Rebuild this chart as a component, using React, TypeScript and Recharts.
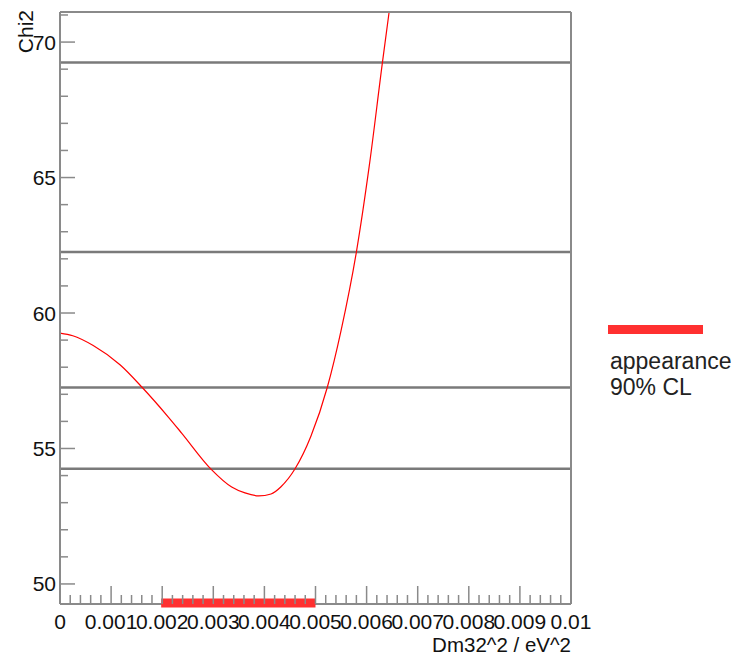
import { LineChart, Line, XAxis, YAxis, ReferenceLine, Legend, Label } from 'recharts'

// chi2 scan vs Dm32^2
const dm32 = [
  0, 0.00025, 0.00065, 0.00118, 0.00161, 0.00212, 0.00238, 0.00295, 0.00336, 0.00362,
  0.00389, 0.00413, 0.00432, 0.0046, 0.00491, 0.00523, 0.0055, 0.0058, 0.00605, 0.00631,
  0.00644,
]
const chi2 = [
  59.26, 59.16, 58.8, 58.08, 57.25, 56.16, 55.57, 54.25, 53.58, 53.36,
  53.25, 53.32, 53.58, 54.25, 55.45, 57.25, 59.35, 62.25, 65.4, 69.25,
  71.1,
]

// horizontal lines (min + 1, 4, 9, 16)
const levels = [54.25, 57.25, 62.25, 69.25]

// 90% CL interval drawn on the x axis
const clRange = [0.00198, 0.005]
const clY = 49.3
const legendLines = ['appearance', '90% CL']

const xLabels = ['0', '0.001', '0.002', '0.003', '0.004', '0.005', '0.006', '0.007', '0.008', '0.009', '0.01']
const xTicks = Array.from({ length: 51 }, (_, i) => i * 0.0002)
const yTicks = Array.from({ length: 22 }, (_, i) => 50 + i)
const xDomain = [0, 0.01]
const yDomain = [49.26, 71.11]

const FONT = '"Liberation Sans", Arial, sans-serif'
const AXIS = '#8a8a8a'

const curveData = dm32.map((x, i) => ({ x, chi2: chi2[i] }))
const clData = clRange.map((x) => ({ x, cl: clY }))

function XTick({ x, y, payload }: any) {
  const k = Math.round(payload.value * 1000)
  const major = Math.abs(payload.value * 1000 - k) < 1e-6
  return (
    <g>
      <line x1={x} x2={x} y1={y} y2={y - (major ? 18 : 9)} stroke={AXIS} strokeWidth={1.5} />
      {major && (
        <text x={x} y={y + 25} textAnchor="middle" fontSize={21} fontFamily={FONT} fill="#111">
          {xLabels[k]}
        </text>
      )}
    </g>
  )
}

function YTick({ x, y, payload }: any) {
  const major = payload.value % 5 === 0
  return (
    <g>
      <line x1={x} x2={x + (major ? 15 : 8)} y1={y} y2={y} stroke={AXIS} strokeWidth={1.5} />
      {major && (
        <text x={x - 4} y={y + 7.5} textAnchor="end" fontSize={21} fontFamily={FONT} fill="#111">
          {payload.value}
        </text>
      )}
    </g>
  )
}

function LegendBox({ payload }: any) {
  const item = (payload || []).find((p: any) => p.value === legendLines.join(' '))
  const color = item ? item.color : '#ff3030'
  return (
    <div style={{ fontFamily: FONT, fontSize: 23, lineHeight: '26px', color: '#222', textAlign: 'left' }}>
      <div style={{ width: 95, height: 9, background: color, marginBottom: 14 }} />
      {legendLines.map((t) => (
        <div key={t} style={{ paddingLeft: 2, whiteSpace: 'nowrap' }}>{t}</div>
      ))}
    </div>
  )
}

export default function App() {
  return (
    <div style={{ position: 'absolute', left: 0, top: 0, background: '#fff' }}>
      <LineChart width={739} height={656} margin={{ top: 11, right: 167, bottom: 51, left: 59 }}>
        <XAxis
          dataKey="x"
          type="number"
          domain={xDomain}
          ticks={xTicks}
          interval={0}
          height={1}
          tickSize={0}
          tickMargin={0}
          tickLine={false}
          tick={<XTick />}
          axisLine={{ stroke: AXIS, strokeWidth: 2 }}
          allowDuplicatedCategory={false}
        >
          <Label
            content={({ viewBox }: any) => (
              <text
                x={viewBox.x + viewBox.width}
                y={viewBox.y + 48}
                textAnchor="end"
                fontSize={20.5}
                fontFamily={FONT}
                fill="#111"
              >
                Dm32^2 / eV^2
              </text>
            )}
          />
        </XAxis>
        <XAxis xAxisId="top" orientation="top" height={1} tick={false} tickLine={false} axisLine={{ stroke: AXIS, strokeWidth: 2 }} />
        <YAxis
          type="number"
          domain={yDomain}
          ticks={yTicks}
          interval={0}
          width={1}
          tickSize={0}
          tickMargin={0}
          tickLine={false}
          tick={<YTick />}
          axisLine={{ stroke: AXIS, strokeWidth: 2 }}
        >
          <Label
            content={({ viewBox }: any) => (
              <text
                x={33}
                y={viewBox.y - 2}
                transform={`rotate(-90, 33, ${viewBox.y - 2})`}
                textAnchor="end"
                fontSize={21}
                fontFamily={FONT}
                fill="#111"
              >
                Chi2
              </text>
            )}
          />
        </YAxis>
        <YAxis yAxisId="right" orientation="right" width={1} tick={false} tickLine={false} axisLine={{ stroke: AXIS, strokeWidth: 2 }} />
        {levels.map((v) => (
          <ReferenceLine key={v} y={v} stroke="#7a7a7a" strokeWidth={2.5} />
        ))}
        <Line
          data={curveData}
          dataKey="chi2"
          type="monotone"
          stroke="#ff0000"
          strokeWidth={1.2}
          dot={false}
          legendType="none"
          isAnimationActive={false}
        />
        <Line
          data={clData}
          dataKey="cl"
          name={legendLines.join(' ')}
          type="linear"
          stroke="#ff3030"
          strokeWidth={9}
          dot={false}
          zIndex={1000}
          isAnimationActive={false}
        />
        <Legend
          layout="horizontal"
          verticalAlign="middle"
          align="center"
          wrapperStyle={{ left: 608, top: 325, width: 131 }}
          content={<LegendBox />}
        />
      </LineChart>
    </div>
  )
}
